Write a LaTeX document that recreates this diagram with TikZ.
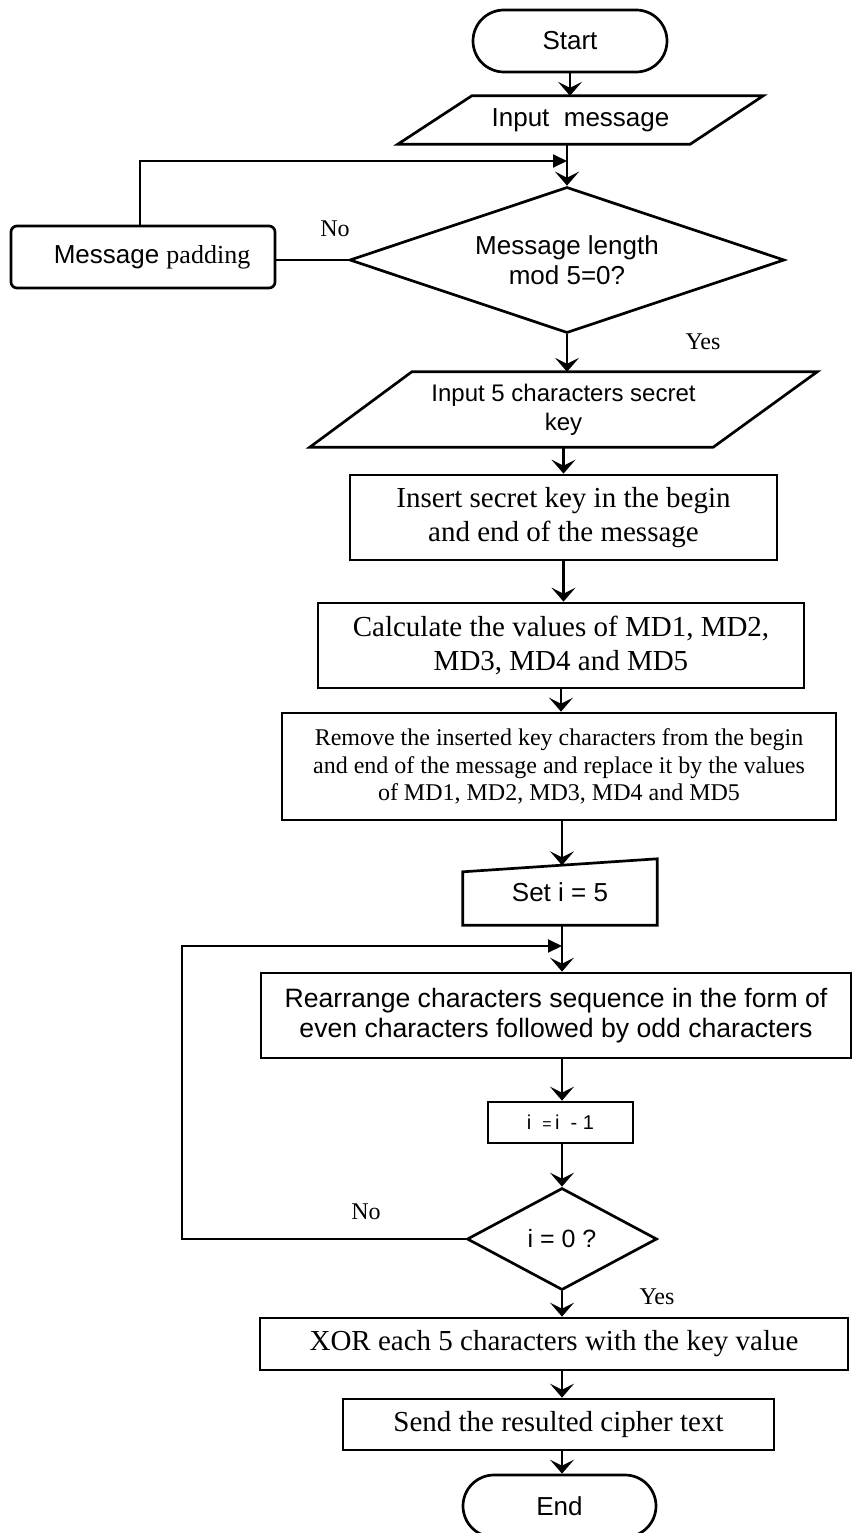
\documentclass[tikz,border=0pt]{standalone}
\usepackage{fontspec}
\setmainfont{Liberation Serif}
\setsansfont{Liberation Sans}
\usetikzlibrary{arrows.meta,shapes.geometric}
\begin{document}
\begin{tikzpicture}[x=1pt,y=-1pt,
  every node/.style={inner sep=2pt, align=center},
  sanstxt/.style={font=\sffamily\fontsize{26}{30}\selectfont},
  keytxt/.style={font=\sffamily\fontsize{24}{29}\selectfont},
  bigserif/.style={font=\fontsize{29}{34}\selectfont},
  smallserif/.style={font=\fontsize{24}{27.5}\selectfont},
  lbl/.style={font=\fontsize{24}{28}\selectfont},
  border/.style={draw, line width=2.7pt},
  procbox/.style={border, rectangle},
  termbox/.style={border, rectangle, rounded corners=31pt},
  decbox/.style={border, diamond, inner sep=0pt},
  ghostbox/.style={rectangle, draw=none},
  arr/.style={line width=2.5pt, -{Stealth[length=14pt,width=24pt,inset=6pt]}},
  backarr/.style={line width=2pt, -{Triangle[length=14pt,width=13pt]}},
  plain/.style={line width=2.5pt}
]
\useasboundingbox (0,0) rectangle (853,1533);

% nodes
\node[termbox, sanstxt, minimum width=194pt, minimum height=62pt] (start) at (570,41) {Start};
\node[ghostbox, sanstxt, minimum width=365pt, minimum height=48pt] (inmsg) at (580.5,120) {Input\ \ message};
\draw[border] ([xshift=74pt]inmsg.north west) -- (inmsg.north east) -- ([xshift=-73pt]inmsg.south east) -- (inmsg.south west) -- cycle;

\node[decbox, sanstxt, aspect=3, minimum width=435pt, minimum height=146pt] (dec1) at (567,260) {Message length\\mod 5=0?};
\node[procbox, rounded corners=6pt, minimum width=264pt, minimum height=62pt] (pad) at (143,257)
  {\hspace*{18pt}{\sffamily\fontsize{26}{30}\selectfont Message\ }{\fontsize{26}{30}\selectfont padding}};
\node[lbl] (no1) at (335,229) {No};
\node[lbl] (yes1) at (703,342) {Yes};

\node[ghostbox, keytxt, minimum width=507pt, minimum height=75pt] (key) at (563.5,409.5) {Input 5 characters secret\\key};
\draw[border] ([xshift=102pt]key.north west) -- (key.north east) -- ([xshift=-104pt]key.south east) -- (key.south west) -- cycle;

\node[procbox, bigserif, minimum width=427pt, minimum height=85pt] (ins) at (563.5,517.5) {Insert secret key in the begin\\and end of the message};
\node[procbox, bigserif, minimum width=486pt, minimum height=85pt] (calc) at (561,645.5) {Calculate the values of MD1, MD2,\\MD3, MD4 and MD5};
\node[procbox, smallserif, minimum width=554pt, minimum height=107pt] (rem) at (559,766.5) {Remove the inserted key characters from the begin\\and end of the message and replace it by the values\\of MD1, MD2, MD3, MD4 and MD5};

\node[ghostbox, sanstxt, minimum width=194pt, minimum height=66pt] (set) at (560,892) {Set i = 5};
\draw[border] (set.south west) -- ([yshift=-13pt]set.north west) -- (set.north east) -- (set.south east) -- cycle;

\node[procbox, font=\sffamily\fontsize{26.6}{30}\selectfont, minimum width=590pt, minimum height=85pt] (rearr) at (556,1015.5) {Rearrange characters sequence in the form of\\even characters followed by odd characters};
\node[procbox, font=\sffamily\fontsize{20}{23}\selectfont, minimum width=145pt, minimum height=41pt] (decr) at (560.5,1122.5) {i\ \ {\fontsize{16}{16}\selectfont =}\,i\ \ -\ 1};
\node[decbox, font=\sffamily\fontsize{25}{29}\selectfont, aspect=1.86, minimum width=190pt, minimum height=102pt] (dec2) at (562,1239) {i = 0 ?};
\node[lbl] (no2) at (366,1212) {No};
\node[lbl] (yes2) at (657,1297) {Yes};

\node[procbox, bigserif, minimum width=588pt, minimum height=52pt] (xor) at (554,1344) {XOR each 5 characters with the key value};
\node[procbox, bigserif, minimum width=431pt, minimum height=51pt] (send) at (558.5,1424.5) {Send the resulted cipher text};
\node[termbox, sanstxt, minimum width=193pt, minimum height=62pt] (stop) at (559.5,1506) {End};

% junction points
\coordinate (j1) at (dec1.north |- 0,161);
\coordinate (j2) at (dec2.north |- 0,946);
\coordinate (c2) at (182,946);

% connectors
\draw[arr] (start.south) -- (start.south |- inmsg.north);
\draw[arr] (inmsg.south -| dec1.north) -- (dec1.north);
\draw[backarr] ([xshift=-3pt]pad.north) |- (j1);
\draw[plain] (dec1.west) -- (dec1.west -| pad.east);
\draw[arr] (dec1.south) -- (dec1.south |- key.north);
\draw[arr] (key.south -| ins.north) -- (ins.north);
\draw[arr] (ins.south) -- (ins.south |- calc.north);
\draw[arr] (calc.south) -- (calc.south |- rem.north);
\draw[arr] (rem.south -| dec2.north) -- ([yshift=-6.5pt]set.north -| dec2.north);
\draw[arr] (set.south -| dec2.north) -- (dec2.north |- rearr.north);
\draw[backarr] (dec2.west) -| (c2) -- (j2);
\draw[arr] (rearr.south -| dec2.north) -- (dec2.north |- decr.north);
\draw[arr] (decr.south -| dec2.north) -- (dec2.north);
\draw[arr] (dec2.south) -- (dec2.south |- xor.north);
\draw[arr] (xor.south -| dec2.south) -- (dec2.south |- send.north);
\draw[arr] (send.south -| dec2.south) -- (dec2.south |- stop.north);
\end{tikzpicture}
\end{document}
